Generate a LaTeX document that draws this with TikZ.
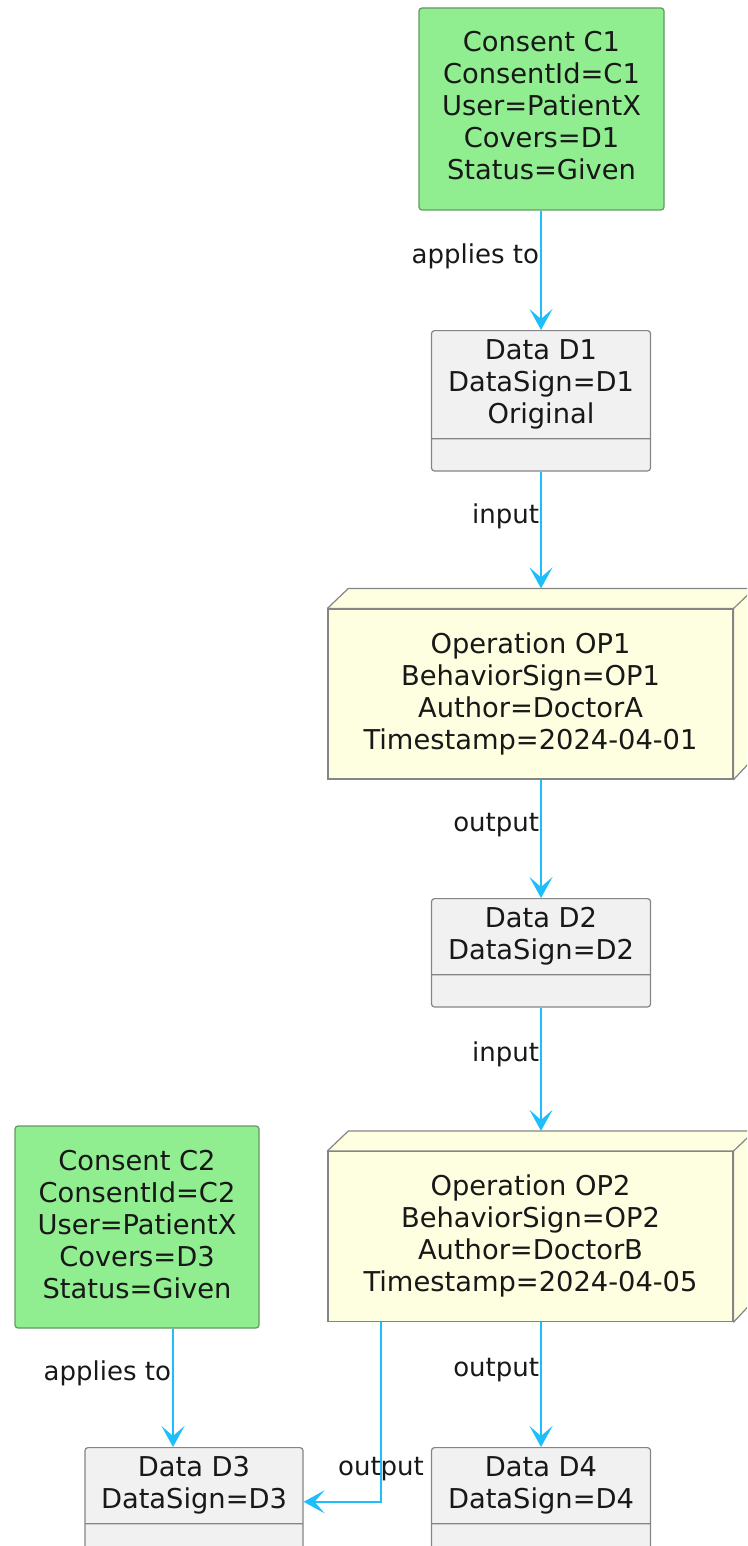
\documentclass[tikz,border=0pt]{standalone}
\usepackage{fontspec}
\setmainfont{DejaVu Sans}
\usetikzlibrary{arrows.meta,shapes.multipart}

\definecolor{consentfill}{HTML}{90EE90}
\definecolor{consentdraw}{HTML}{629862}
\definecolor{datafill}{HTML}{F1F1F1}
\definecolor{opfill}{HTML}{FEFEE0}
\definecolor{boxdraw}{HTML}{858585}
\definecolor{flowblue}{HTML}{1EBEFA}
\definecolor{ink}{HTML}{181818}

% fixed height for every text row, so the rows sit 32pt apart
\newcommand{\rowst}{\rule[-9pt]{0pt}{32pt}}

\tikzset{
  boxtext/.style={font=\fontsize{27.3}{32}\selectfont, text=ink, align=center},
  consent/.style={boxtext, draw=consentdraw, fill=consentfill, line width=1.2pt,
    rounded corners=3pt, minimum width=245pt, minimum height=202pt, inner sep=0pt},
  data/.style={boxtext, rectangle split, rectangle split parts=2, draw=boxdraw,
    fill=datafill, line width=1.2pt, rounded corners=3pt, minimum width=219pt,
    inner xsep=0pt, inner ysep=5.5pt, anchor=north},
  operation/.style={boxtext, draw=boxdraw, fill=opfill, line width=1.2pt,
    minimum width=405pt, minimum height=170pt, inner sep=0pt},
  opface/.style={draw=boxdraw, fill=opfill, line width=1.2pt, line join=round},
  flow/.style={draw=flowblue, line width=2pt,
    -{Stealth[length=21pt, width=23pt, inset=10pt]}},
  flowlabel/.style={font=\fontsize{26}{30}\selectfont, text=ink, pos=0.38,
    anchor=east, inner xsep=1pt, inner ysep=0pt},
}

\begin{document}
\begin{tikzpicture}[x=1pt, y=-1pt]
\useasboundingbox (0,0) rectangle (747,1546);
\clip (0,0) rectangle (747,1546);

% consents
\node[consent] (c1) at (541.5,109) {\rowst Consent C1\\\rowst ConsentId=C1\\\rowst User=PatientX\\\rowst Covers=D1\\\rowst Status=Given};
\node[consent, minimum width=244pt] (c2) at (137,1227) {\rowst Consent C2\\\rowst ConsentId=C2\\\rowst User=PatientX\\\rowst Covers=D3\\\rowst Status=Given};

% data items
\node[data] (d1) at (541,330) {\rowst Data D1\\\rowst DataSign=D1\\\rowst Original\nodepart{two}\rule{0pt}{20pt}};
\node[data] (d2) at (541,898) {\rowst Data D2\\\rowst DataSign=D2\nodepart{two}\rule{0pt}{20pt}};
\node[data, minimum width=218pt] (d3) at (194,1447) {\rowst Data D3\\\rowst DataSign=D3\nodepart{two}\rule{0pt}{20pt}};
\node[data] (d4) at (541,1447) {\rowst Data D4\\\rowst DataSign=D4\nodepart{two}\rule{0pt}{20pt}};

% operations
\node[operation] (op1) at (530.5,694) {\rowst Operation OP1\\\rowst BehaviorSign=OP1\\\rowst Author=DoctorA\\\rowst Timestamp=2024-04-01};
\node[operation] (op2) at (530.5,1236.5) {\rowst Operation OP2\\\rowst BehaviorSign=OP2\\\rowst Author=DoctorB\\\rowst Timestamp=2024-04-05};

% top and side faces of the operation boxes
\foreach \op in {op1,op2}{
  \filldraw[opface] (\op.north west) -- ++(21,-20) -- ++(405,0) -- ++(0,170)
    -- (\op.south east) -- (\op.north east) -- cycle;
  \draw[opface] (\op.north east) -- ++(21,-20);
}

\coordinate (op1top) at ([yshift=20pt]op1.north);
\coordinate (op2top) at ([yshift=20pt]op2.north);
\coordinate (op2out) at ([xshift=-149.5pt]op2.south);
\coordinate (c2out) at ([xshift=36pt]c2.south);

% flows
\draw[flow] (d1.north |- c1.south) -- node[flowlabel] {applies to} (d1.north);
\draw[flow] (d1.south) -- node[flowlabel] {input} (d1.south |- op1top);
\draw[flow] (d2.north |- op1.south) -- node[flowlabel] {output} (d2.north);
\draw[flow] (d2.south) -- node[flowlabel] {input} (d2.south |- op2top);
\draw[flow] (d4.north |- op2.south) -- node[flowlabel] {output} (d4.north);
\draw[flow] (c2out) -- node[flowlabel] {applies to} (c2out |- d3.north);
\draw[flow] (op2out) |- node[flowlabel, pos=0.41, anchor=center] {output} (d3.east);

\end{tikzpicture}
\end{document}
